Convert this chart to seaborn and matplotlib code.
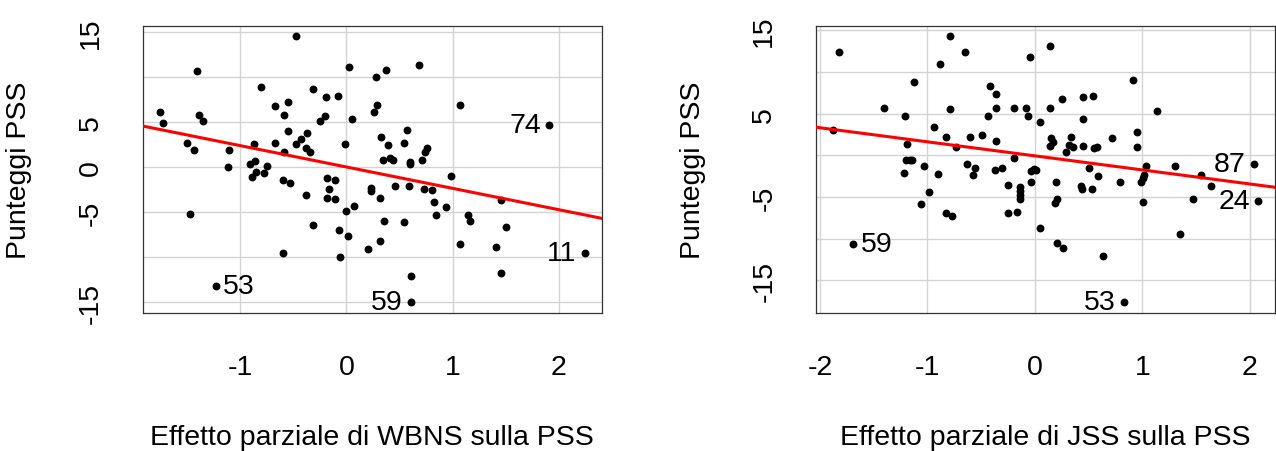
import seaborn as sns
import matplotlib.pyplot as plt
import numpy as np
import pandas as pd

# added-variable plot data
wbns_x = [-1.758, -1.730, -1.406, -1.390, -1.346, -1.500, -1.431, -1.475, -1.104, -1.119,
          -1.226, -0.874, -0.906, -0.862, -0.887, -0.849, -0.777, -0.752, -0.805, -0.670,
          -0.588, -0.547, -0.547, -0.670, -0.588, -0.601, -0.531, -0.601, -0.478, -0.314,
          -0.478, -0.425, -0.368, -0.384, -0.340, -0.381, -0.314, -0.248, -0.204, -0.192,
          -0.082, -0.182, -0.110, -0.164, -0.182, -0.107, -0.069, -0.057, -0.016, 0.025,
          0.053, 0.000, 0.069, 0.013, 0.280, 0.368, 0.283, 0.258, 0.324, 0.393,
          0.340, 0.409, 0.440, 0.230, 0.230, 0.314, 0.459, 0.352, 0.311, 0.198,
          0.541, 0.569, 0.541, 0.597, 0.597, 0.585, 0.610, 0.610, 0.679, 0.755,
          0.736, 0.708, 0.730, 0.805, 0.827, 0.843, 0.940, 0.981, 1.072, 1.072,
          1.142, 1.167, 1.403, 1.456, 1.497, 1.456, 1.909, 2.245]
wbns_y = [6.14, 4.85, 10.63, 5.81, 5.15, 2.72, 1.91, -5.15, 1.91, 0.00,
          -13.24, 2.61, 0.29, 0.66, -1.10, -0.59, -0.66, 0.15, 8.86, 6.76,
          5.81, 7.24, 4.04, 2.72, 1.65, -1.43, -1.80, -9.52, 14.49, 8.68,
          2.57, 3.09, 3.75, 2.13, 1.62, -3.09, -6.43, 5.15, 5.63, 7.72,
          7.90, -1.25, -1.40, -2.43, -3.38, -3.57, -6.95, -10.00, 2.57, 11.10,
          5.29, -4.85, -4.34, -7.61, 9.96, 10.77, 6.91, 6.10, 3.38, 2.43,
          0.81, 0.96, 0.77, -2.28, -2.61, -3.38, -2.10, -5.99, -8.24, -9.04,
          -6.14, 4.15, 2.72, 0.51, 0.29, -2.10, -12.13, -15.00, 11.29, 2.10,
          1.65, 0.81, -2.43, -2.57, -3.90, -5.33, -4.38, -0.99, 6.91, -8.53,
          -5.33, -5.96, -8.90, -3.60, -6.62, -11.76, 4.67, -9.49]
wbns_labels = {"53": 10, "59": 77, "74": 96, "11": 97}

jss_x = [-1.882, -1.826, -1.689, -1.409, -1.210, -1.194, -1.198, -1.163, -1.145, -1.219,
         -1.126, -1.036, -1.058, -0.989, -0.936, -0.899, -0.883, -0.827, -0.830, -0.774,
         -0.787, -0.790, -0.737, -0.653, -0.631, -0.607, -0.557, -0.575, -0.491, -0.439,
         -0.417, -0.358, -0.358, -0.358, -0.373, -0.305, -0.252, -0.252, -0.196, -0.196,
         -0.168, -0.143, -0.143, -0.143, -0.143, -0.084, -0.062, -0.047, -0.037, -0.009,
         0.009, -0.034, 0.047, 0.050, 0.140, 0.140, 0.152, 0.140, 0.168, 0.193,
         0.208, 0.190, 0.202, 0.261, 0.249, 0.289, 0.339, 0.320, 0.358, 0.448,
         0.541, 0.448, 0.448, 0.551, 0.575, 0.504, 0.585, 0.432, 0.436, 0.529,
         0.638, 0.718, 0.796, 0.830, 0.911, 0.949, 0.949, 1.033, 1.020, 1.005,
         0.986, 1.002, 1.135, 1.300, 1.353, 1.474, 1.543, 1.636, 2.037, 2.078]
jss_y = [3.10, 12.42, -10.62, 5.73, 4.70, 1.39, -0.52, -0.52, -0.52, -2.11,
         8.87, -1.23, -5.77, -4.38, 3.46, -2.27, 10.98, 2.27, -6.96, -7.28,
         14.29, 5.57, 0.99, 12.42, -1.03, 2.19, -1.55, -2.31, 2.47, 4.70,
         8.36, 7.32, 5.73, 1.79, -1.79, -1.55, -3.50, -6.96, 5.73, -0.36,
         -6.84, -3.82, -4.30, -4.78, -5.25, 5.73, 4.70, 11.86, -1.91, -1.63,
         -1.71, -3.14, 4.02, -8.71, 13.09, 5.73, 2.15, 1.19, 1.59, -3.14,
         -5.17, -5.65, -10.55, -11.14, 6.80, 0.36, 2.27, 1.31, 0.99, 6.96,
         7.16, 4.34, 1.19, 0.84, 1.07, -1.55, -2.47, -3.62, -4.06, -4.02,
         -12.06, 2.07, -3.14, -17.63, 9.07, 2.79, 1.03, -1.23, -2.31, -2.75,
         -3.18, -5.61, 5.37, -1.23, -9.43, -5.25, -2.39, -3.66, -1.03, -5.45]
jss_labels = {"59": 2, "53": 83, "87": 98, "24": 99}

y_ticks = [-15, -10, -5, 0, 5, 10, 15]
wbns_yticklabels = ["-15", "", "-5", "0", "5", "", "15"]
jss_yticklabels = ["-15", "", "-5", "", "5", "", "15"]

sns.set_style("white")
plt.rcParams["font.family"] = ["Liberation Sans", "DejaVu Sans"]
plt.rcParams["text.color"] = "black"
plt.rcParams["axes.labelcolor"] = "black"
plt.rcParams["axes.unicode_minus"] = False

fig = plt.figure(figsize=(12.76, 4.52), dpi=100)
ax1 = fig.add_axes([0.1118, 0.3053, 0.36, 0.6356])
ax2 = fig.add_axes([0.6393, 0.3053, 0.36, 0.6356])

panels = [
    (ax1, wbns_x, wbns_y, wbns_labels, [-1, 0, 1, 2], wbns_yticklabels,
     "Effetto parziale di WBNS sulla PSS"),
    (ax2, jss_x, jss_y, jss_labels, [-2, -1, 0, 1, 2], jss_yticklabels,
     "Effetto parziale di JSS sulla PSS"),
]

fs = 20.5
for ax, xs, ys, labels, xt, ytl, xlabel in panels:
    df = pd.DataFrame({"x": xs, "y": ys})
    # R style axis range: data range plus 4% each side
    xlo, xhi = df.x.min(), df.x.max()
    ylo, yhi = df.y.min(), df.y.max()
    xlim = (xlo - 0.04 * (xhi - xlo), xhi + 0.04 * (xhi - xlo))
    ylim = (ylo - 0.04 * (yhi - ylo), yhi + 0.04 * (yhi - ylo))
    ax.set_xlim(xlim)
    ax.set_ylim(ylim)

    ax.set_xticks(xt)
    ax.set_yticks(y_ticks)
    ax.grid(True, color="#d3d3d3", lw=1.0, zorder=0)
    ax.set_axisbelow(True)

    sns.scatterplot(data=df, x="x", y="y", ax=ax, color="black", s=32,
                    linewidth=0, zorder=3)
    sns.regplot(data=df, x="x", y="y", ax=ax, scatter=False, ci=None,
                truncate=False, color="red", line_kws={"lw": 2.2, "zorder": 4})
    ax.set_xlim(xlim)
    ax.set_ylim(ylim)

    # labelled points (left of point if on the right side, else right)
    for lab, i in labels.items():
        if xs[i] > 0:
            ax.annotate(lab, (xs[i], ys[i]), xytext=(-6, 0), textcoords="offset points",
                        ha="right", va="center", fontsize=fs)
        else:
            ax.annotate(lab, (xs[i], ys[i]), xytext=(5, 0), textcoords="offset points",
                        ha="left", va="center", fontsize=fs)

    ax.set_yticklabels(ytl, rotation=90, va="center")
    ax.tick_params(axis="both", direction="out", length=12.7, width=0.9,
                   color="#333333", labelsize=fs, labelcolor="black")
    ax.tick_params(axis="x", pad=17)
    ax.tick_params(axis="y", pad=15)
    for sp in ax.spines.values():
        sp.set_color("#333333")
        sp.set_linewidth(0.9)

    ax.set_xlabel(xlabel, fontsize=fs)
    ax.set_ylabel("Punteggi PSS", fontsize=fs)
    ax.xaxis.set_label_coords(0.5, -0.385)
    ax.yaxis.set_label_coords(-0.24, 0.5)

fig.savefig("out.png", dpi=100)
